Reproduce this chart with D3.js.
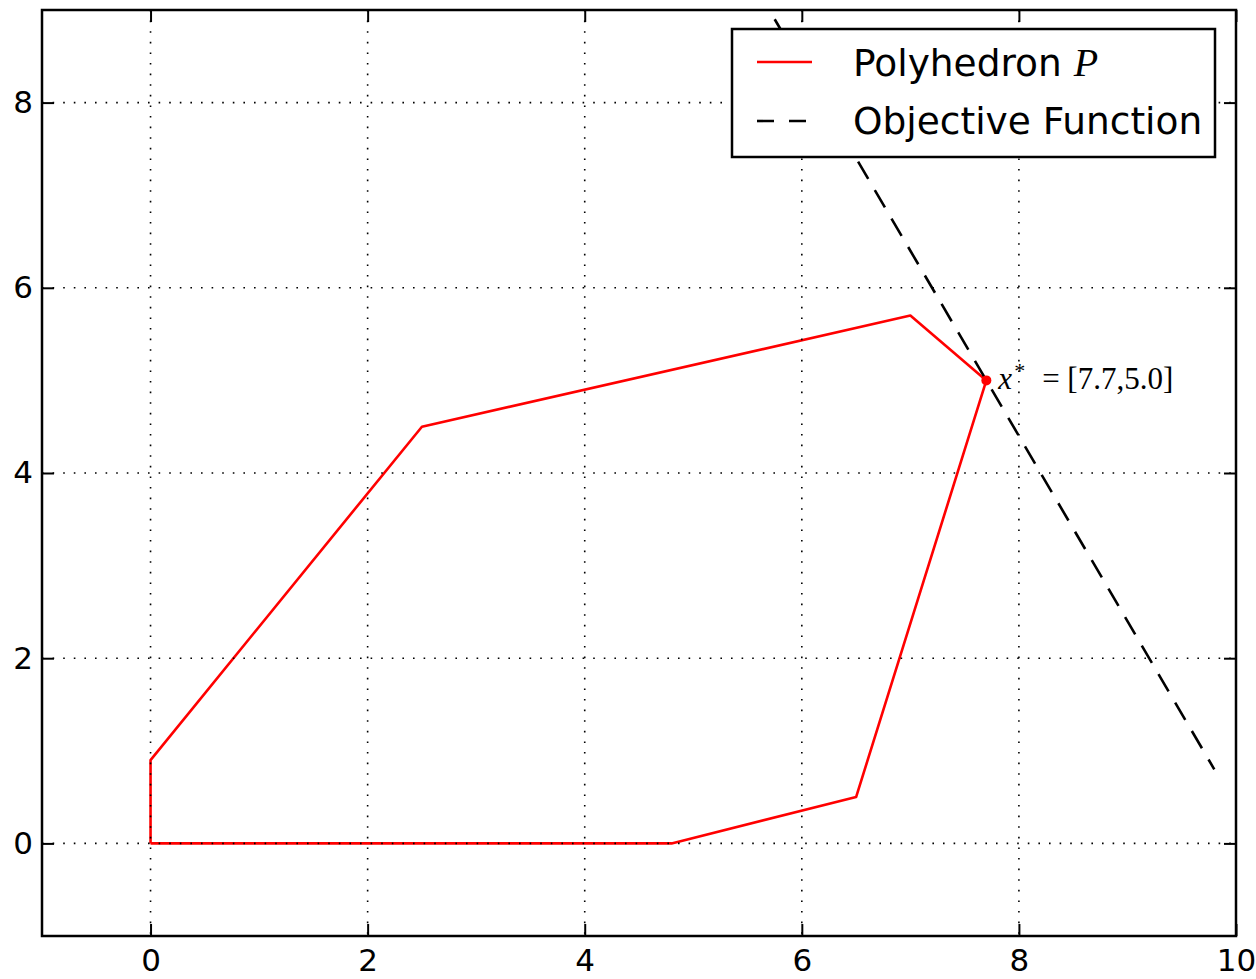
<!DOCTYPE html>
<html>
<head>
<meta charset="utf-8">
<script src="https://cdn.jsdelivr.net/npm/d3@7"></script>
<style>
  body { margin: 0; background: #fff; }
  text { font-family: "DejaVu Sans", sans-serif; }
</style>
</head>
<body>
<svg id="chart"></svg>
<script>
var width = 1256;
var height = 979;

// polygon vertices (closed)
var polyX = [0, 4.8, 6.5, 7.7, 7.0, 2.5, 0, 0];
var polyY = [0, 0, 0.5, 5.0, 5.7, 4.5, 0.9, 0];

// objective function line ends
var objX = [5.75, 9.8];
var objY = [8.9, 0.8];

var optimum = [7.7, 5.0];

var xTicks = [0, 2, 4, 6, 8, 10];
var yTicks = [0, 2, 4, 6, 8];

var seriesNames = ["Polyhedron", "Objective Function"];

var plotLeft = 42, plotRight = 1236, plotTop = 10, plotBottom = 936;

var xScale = d3.scaleLinear().domain([-1, 10]).range([plotLeft, plotRight]);
var yScale = d3.scaleLinear().domain([-1, 9]).range([plotBottom, plotTop]);

var svg = d3.select("#chart").attr("width", width).attr("height", height);

svg.append("defs").append("clipPath").attr("id", "clip")
  .append("rect")
    .attr("x", plotLeft).attr("y", plotTop)
    .attr("width", plotRight - plotLeft).attr("height", plotBottom - plotTop);

var line = d3.line().x(d => xScale(d[0])).y(d => yScale(d[1]));

var plot = svg.append("g").attr("clip-path", "url(#clip)");

// polyhedron
plot.append("path")
    .datum(polyX.map((x, i) => [x, polyY[i]]))
    .attr("d", line)
    .attr("fill", "none")
    .attr("stroke", "#ff0000")
    .attr("stroke-width", 2.6)
    .attr("stroke-linejoin", "round");

// objective
plot.append("path")
    .datum(objX.map((x, i) => [x, objY[i]]))
    .attr("d", line)
    .attr("fill", "none")
    .attr("stroke", "#000")
    .attr("stroke-width", 2.6)
    .attr("stroke-dasharray", "20,13");

plot.append("circle")
    .attr("cx", xScale(optimum[0]))
    .attr("cy", yScale(optimum[1]))
    .attr("r", 5)
    .attr("fill", "#ff0000");

// grid on top (classic style)
var grid = svg.append("g");
grid.selectAll(".gx").data(xTicks.filter(d => d > -1 && d < 10)).enter()
  .append("line")
    .attr("x1", d => xScale(d)).attr("x2", d => xScale(d))
    .attr("y1", plotTop).attr("y2", plotBottom)
    .attr("stroke", "#000").attr("stroke-width", 1.6)
    .attr("stroke-dasharray", "1.6,9");
grid.selectAll(".gy").data(yTicks).enter()
  .append("line")
    .attr("x1", plotLeft).attr("x2", plotRight)
    .attr("y1", d => yScale(d)).attr("y2", d => yScale(d))
    .attr("stroke", "#000").attr("stroke-width", 1.6)
    .attr("stroke-dasharray", "1.6,9");

// annotation
var ax0 = xScale(optimum[0]) + 12;
var ann = svg.append("text")
    .attr("x", ax0)
    .attr("y", yScale(optimum[1]) + 9)
    .style("font-family", "'Liberation Serif', serif")
    .style("font-size", "31px")
    .attr("fill", "#000");
ann.append("tspan").style("font-style", "italic").text("x");
ann.append("tspan").attr("x", ax0 + 16).attr("dy", -11).style("font-size", "22px").text("*");
ann.append("tspan").attr("x", ax0 + 44).attr("dy", 11).text("=");
ann.append("tspan").attr("x", ax0 + 69).text("[7.7,5.0]");

// axes with inward ticks on all sides
var tickLen = 12;
var xAxisB = d3.axisBottom(xScale).tickValues(xTicks).tickSize(-tickLen).tickPadding(13).tickFormat(d3.format("d"));
var xAxisT = d3.axisTop(xScale).tickValues(xTicks).tickSize(-tickLen).tickFormat("");
var yAxisL = d3.axisLeft(yScale).tickValues(yTicks).tickSize(-tickLen).tickPadding(9).tickFormat(d3.format("d"));
var yAxisR = d3.axisRight(yScale).tickValues(yTicks).tickSize(-tickLen).tickFormat("");

function styleAxis(g) {
  g.select(".domain").remove();
  g.selectAll(".tick line").attr("stroke", "#000").attr("stroke-width", 2);
  g.selectAll(".tick text").style("font-family", "'DejaVu Sans', sans-serif").style("font-size", "31px").attr("fill", "#000");
}

svg.append("g").attr("transform", "translate(0," + plotBottom + ")").call(xAxisB).call(styleAxis);
svg.append("g").attr("transform", "translate(0," + plotTop + ")").call(xAxisT).call(styleAxis);
svg.append("g").attr("transform", "translate(" + plotLeft + ",0)").call(yAxisL).call(styleAxis);
svg.append("g").attr("transform", "translate(" + plotRight + ",0)").call(yAxisR).call(styleAxis);

svg.append("rect")
    .attr("x", plotLeft).attr("y", plotTop)
    .attr("width", plotRight - plotLeft).attr("height", plotBottom - plotTop)
    .attr("fill", "none").attr("stroke", "#000").attr("stroke-width", 2.5);

// legend
var legend = svg.append("g");
legend.append("rect")
    .attr("x", 732).attr("y", 29)
    .attr("width", 483).attr("height", 128)
    .attr("fill", "#fff").attr("stroke", "#000").attr("stroke-width", 2.5);

legend.append("line")
    .attr("x1", 757).attr("x2", 812).attr("y1", 62).attr("y2", 62)
    .attr("stroke", "#ff0000").attr("stroke-width", 2.6);
legend.append("line")
    .attr("x1", 757).attr("x2", 806).attr("y1", 121).attr("y2", 121)
    .attr("stroke", "#000").attr("stroke-width", 2.6)
    .attr("stroke-dasharray", "17,15");

var t1 = legend.append("text").attr("x", 853).attr("y", 76).style("font-size", "37.5px").attr("fill", "#000");
t1.append("tspan").text(seriesNames[0] + " ");
t1.append("tspan").style("font-family", "'Liberation Serif', serif").style("font-style", "italic").style("font-size", "40px").text("P");

legend.append("text").attr("x", 853).attr("y", 134).style("font-size", "37.5px").attr("fill", "#000")
    .text(seriesNames[1]);
</script>
</body>
</html>
